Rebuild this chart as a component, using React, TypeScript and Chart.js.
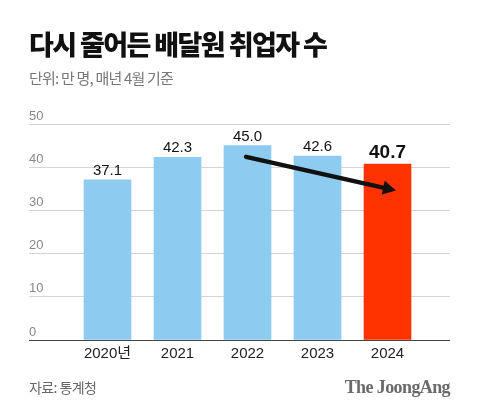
import React, { useEffect, useRef } from "react";
import { Chart, registerables } from "chart.js";

Chart.register(...registerables);

const categories = ["2020년", "2021", "2022", "2023", "2024"];
const values = [37.1, 42.3, 45.0, 42.6, 40.7];
const valueLabels = ["37.1", "42.3", "45.0", "42.6", "40.7"];
const barColors = ["#8DCBF0", "#8DCBF0", "#8DCBF0", "#8DCBF0", "#FF3300"];
const yTicks = [0, 10, 20, 30, 40, 50];
// trend arrow in data units: [x index, value]
const arrowFrom = [1.98, 42.4];
const arrowTo = [4.12, 34.6];

const X_MIN = -1.1214;
const X_MAX = X_MIN + 421 / 70;

const SANS = "'Liberation Sans', 'Noto Sans CJK KR', sans-serif";

const labelsPlugin = {
  id: "valueLabels",
  afterDatasetsDraw(chart: any) {
    const ctx = chart.ctx;
    const meta = chart.getDatasetMeta(0);
    ctx.save();
    meta.data.forEach((bar: any, i: number) => {
      const last = i === values.length - 1;
      ctx.font = last ? `bold 19px ${SANS}` : `15px ${SANS}`;
      ctx.fillStyle = "#111";
      ctx.textAlign = "center";
      ctx.textBaseline = "alphabetic";
      ctx.fillText(valueLabels[i], bar.x, bar.y - (last ? 6 : 5));
    });
    // arrow
    const xs = chart.scales.x;
    const ys = chart.scales.y;
    const x1 = xs.getPixelForValue(arrowFrom[0]);
    const y1 = ys.getPixelForValue(arrowFrom[1]);
    const x2 = xs.getPixelForValue(arrowTo[0]);
    const y2 = ys.getPixelForValue(arrowTo[1]);
    const ang = Math.atan2(y2 - y1, x2 - x1);
    const headLen = 13;
    const headW = 7;
    const bx = x2 - headLen * Math.cos(ang);
    const by = y2 - headLen * Math.sin(ang);
    ctx.strokeStyle = "#111";
    ctx.lineWidth = 4.5;
    ctx.lineCap = "round";
    ctx.beginPath();
    ctx.moveTo(x1, y1);
    ctx.lineTo(bx + 2 * Math.cos(ang), by + 2 * Math.sin(ang));
    ctx.stroke();
    ctx.fillStyle = "#111";
    ctx.beginPath();
    ctx.moveTo(x2, y2);
    ctx.lineTo(bx - headW * Math.sin(ang), by + headW * Math.cos(ang));
    ctx.lineTo(bx + headW * Math.sin(ang), by - headW * Math.cos(ang));
    ctx.closePath();
    ctx.fill();
    ctx.restore();
  },
};

function BarChart() {
  const ref = useRef<HTMLCanvasElement | null>(null);
  useEffect(() => {
    if (!ref.current) return;
    const chart = new Chart(ref.current, {
      type: "bar",
      data: {
        datasets: [
          {
            data: values.map((v, i) => ({ x: i, y: v })),
            backgroundColor: barColors,
            barThickness: 47,
            borderWidth: 0,
          },
        ],
      },
      options: {
        animation: false,
        responsive: false,
        maintainAspectRatio: false,
        events: [],
        layout: { padding: { left: 29, right: 30, top: 124, bottom: 48 } },
        plugins: { legend: { display: false }, tooltip: { enabled: false }, title: { display: false } },
        scales: {
          x: {
            type: "linear",
            min: X_MIN,
            max: X_MAX,
            offset: false,
            grid: { display: false, drawTicks: false },
            border: { display: false },
            afterBuildTicks: (scale: any) => {
              scale.ticks = categories.map((_, i) => ({ value: i }));
            },
            ticks: {
              padding: 5,
              autoSkip: false,
              maxRotation: 0,
              color: "#222",
              font: { size: 15, family: SANS },
              callback: (v: any) => categories[Math.round(Number(v))] ?? "",
            },
          },
          y: {
            min: 0,
            max: 50,
            afterBuildTicks: (scale: any) => {
              scale.ticks = yTicks.map((v) => ({ value: v }));
            },
            grid: {
              drawTicks: false,
              color: (c: any) => (c.tick && c.tick.value === 0 ? "#444" : "#d4d4d4"),
              lineWidth: 1,
            },
            border: { display: false },
            ticks: {
              mirror: true,
              padding: 0,
              labelOffset: -8,
              color: "#888",
              font: { size: 13, family: SANS },
            },
          },
        },
      },
      plugins: [labelsPlugin],
    });
    return () => chart.destroy();
  }, []);
  return <canvas ref={ref} width={480} height={416} style={{ position: "absolute", left: 0, top: 0, width: 480, height: 416 }} />;
}

export default function App() {
  return (
    <div style={{ position: "fixed", left: 0, top: 0, width: 480, height: 416, background: "#fff", overflow: "hidden" }}>
      <BarChart />
      <div
        style={{
          position: "absolute",
          left: 29,
          top: 26,
          fontFamily: "'Noto Sans CJK KR', sans-serif",
          fontWeight: 900,
          fontSize: 27,
          letterSpacing: -1.6,
          color: "#111",
          lineHeight: "36px",
          whiteSpace: "nowrap",
        }}
      >
        다시 줄어든 배달원 취업자 수
      </div>
      <div
        style={{
          position: "absolute",
          left: 29,
          top: 68,
          fontFamily: "'Noto Sans CJK KR', sans-serif",
          fontSize: 15,
          letterSpacing: -0.8,
          color: "#777",
          lineHeight: "20px",
          whiteSpace: "nowrap",
        }}
      >
        단위: 만 명, 매년 4월 기준
      </div>
      <div
        style={{
          position: "absolute",
          left: 29,
          top: 377,
          fontFamily: "'Noto Sans CJK KR', sans-serif",
          fontSize: 14,
          letterSpacing: -0.6,
          color: "#666",
          lineHeight: "20px",
          whiteSpace: "nowrap",
        }}
      >
        자료: 통계청
      </div>
      <div
        style={{
          position: "absolute",
          right: 30,
          top: 376,
          fontFamily: "'Liberation Serif', serif",
          fontWeight: 700,
          fontSize: 18,
          letterSpacing: -0.6,
          color: "#6a6a6a",
          lineHeight: "22px",
          whiteSpace: "nowrap",
        }}
      >
        The JoongAng
      </div>
    </div>
  );
}
